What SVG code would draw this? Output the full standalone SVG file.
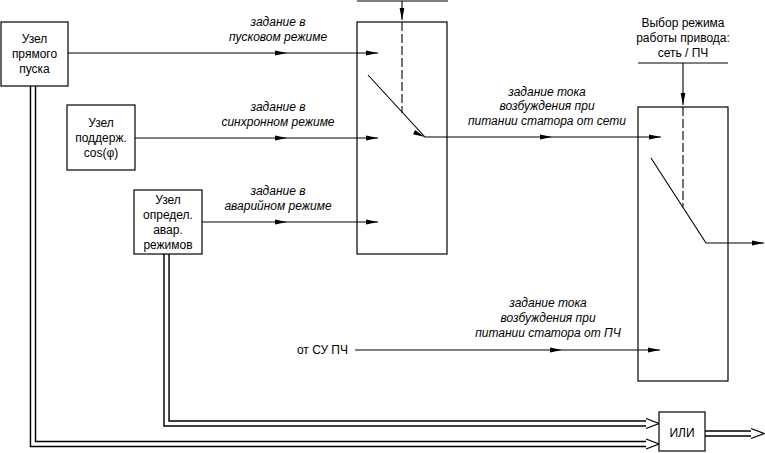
<svg xmlns="http://www.w3.org/2000/svg" width="765" height="453" viewBox="0 0 765 453">
<style>
.box{fill:#fff;stroke:#000;stroke-width:1.2}
.ln{fill:none;stroke:#000;stroke-width:1.1}
.arr{marker-mid:url(#ah);marker-end:url(#ah)}
.arrE{marker-end:url(#ah)}
.dash{fill:none;stroke:#000;stroke-width:1.1;stroke-dasharray:9 3}
.dblo{fill:none;stroke:#000;stroke-width:6.5;stroke-linejoin:miter}
.dbli{fill:none;stroke:#fff;stroke-width:3.6;stroke-linejoin:miter}
.dhead{fill:#fff;stroke:#000;stroke-width:1.3}
.t{font-family:"Liberation Sans",Arial,sans-serif;font-size:12px;fill:#000;text-anchor:middle}
.it{font-family:"Liberation Sans",Arial,sans-serif;font-size:12px;font-style:italic;fill:#000;text-anchor:middle}
</style>
<defs>
<marker id="ah" viewBox="0 0 12 6" refX="12" refY="3" markerWidth="12" markerHeight="6" markerUnits="userSpaceOnUse" orient="auto">
<path d="M0,0.6 L12,3 L0,5.4 z" fill="#000"/>
</marker>
</defs>
<rect width="765" height="453" fill="#fff"/>

<g id="connectors">
<path class="ln arr" d="M68,53 L287,53 L378,53"/>
<path class="ln arr" d="M135,138 L287,138 L378,138"/>
<path class="ln arr" d="M202,222 L287,222 L378,222"/>
<path class="ln" d="M357,1 L448,1"/>
<path class="ln arrE" d="M402,1 L402,20"/>
<path class="dash" d="M402,22 L402,113"/>
<path class="ln arr" d="M368,75 L425,137 L552,137 L661,137"/>
<path class="ln" d="M638,63 L728,63"/>
<path class="ln arrE" d="M683,63 L683,105"/>
<path class="dash" d="M683,107 L683,207"/>
<path class="ln arrE" d="M651,158 L706,243 L764,243"/>
<path class="ln arr" d="M355,350 L562,350 L660,350"/>
<path class="dblo" d="M166.5,254 L166.5,423.5 L647,423.5"/>
<path class="dbli" d="M166.5,254 L166.5,423.5 L647,423.5"/>
<path class="dhead" d="M646,418.5 L659,423.5 L646,428.5"/>
<path class="dblo" d="M33,86 L33,444 L647,444"/>
<path class="dbli" d="M33,86 L33,444 L647,444"/>
<path class="dhead" d="M646,439 L659,444 L646,449"/>
<path class="dblo" d="M705,433.5 L752,433.5"/>
<path class="dbli" d="M705,433.5 L752,433.5"/>
<path class="dhead" d="M751,428.5 L764,433.5 L751,438.5"/>
</g>

<g id="n-pusk">
<rect class="box" x="1" y="22" width="67" height="64"/>
<text class="t" x="34.5" y="43">Узел</text>
<text class="t" x="34.5" y="58">прямого</text>
<text class="t" x="34.5" y="73">пуска</text>
</g>

<g id="n-cos">
<rect class="box" x="67" y="105" width="68" height="65"/>
<text class="t" x="101" y="127">Узел</text>
<text class="t" x="101" y="142">поддерж.</text>
<text class="t" x="101" y="157">cos(φ)</text>
</g>

<g id="n-avar">
<rect class="box" x="134" y="190" width="68" height="64"/>
<text class="t" x="168" y="204">Узел</text>
<text class="t" x="168" y="219">определ.</text>
<text class="t" x="168" y="234">авар.</text>
<text class="t" x="168" y="249">режимов</text>
</g>

<g id="sw1">
<rect class="box" x="357" y="22" width="90" height="232" fill="none" style="fill:none"/>
</g>

<g id="sw2">
<rect class="box" x="638" y="107" width="90" height="274" style="fill:none"/>
</g>

<g id="n-ili">
<rect class="box" x="659" y="412" width="46" height="39"/>
<text class="t" x="682" y="437">ИЛИ</text>
</g>

<g id="labels">
<text class="it" x="278" y="26">задание в</text>
<text class="it" x="278" y="41">пусковом режиме</text>
<text class="it" x="278" y="111">задание в</text>
<text class="it" x="278" y="126">синхронном режиме</text>
<text class="it" x="278" y="195">задание в</text>
<text class="it" x="278" y="210">аварийном режиме</text>
<text class="it" x="547" y="96">задание тока</text>
<text class="it" x="547" y="110">возбуждения при</text>
<text class="it" x="547" y="125">питании статора от сети</text>
<text class="it" x="548" y="307">задание тока</text>
<text class="it" x="548" y="322">возбуждения при</text>
<text class="it" x="548" y="337">питании статора от ПЧ</text>
<text class="t" x="683" y="27">Выбор режима</text>
<text class="t" x="683" y="42">работы привода:</text>
<text class="t" x="683" y="57">сеть / ПЧ</text>
<text class="t" x="348" y="354" style="text-anchor:end">от СУ ПЧ</text>
</g>
</svg>
